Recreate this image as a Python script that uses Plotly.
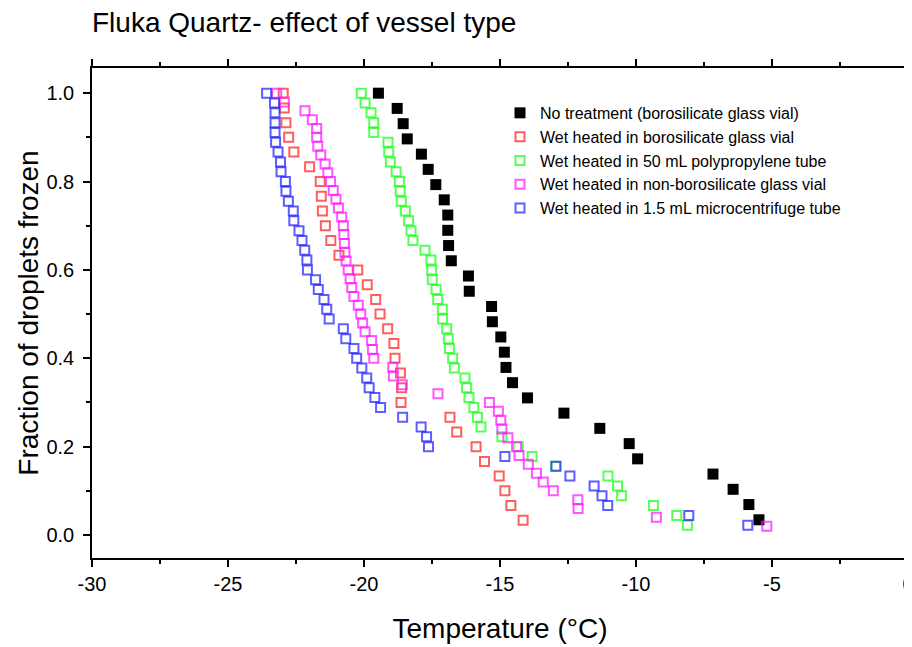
import plotly.graph_objects as go

# ---- data ----
black_x = [-19.47, -18.78, -18.56, -18.41, -17.89, -17.64, -17.36, -17.05, -16.92, -16.92,
           -16.89, -16.79, -16.16, -16.13, -15.31, -15.28, -14.97, -14.84, -14.78, -14.54,
           -13.99, -12.65, -11.33, -10.25, -9.94, -7.17, -6.43, -5.85, -5.48]
black_y = [k / 29 for k in range(29, 0, -1)]

red_x = [-22.97, -22.93, -22.87, -22.77, -22.58, -22.00, -21.61, -21.57, -21.53, -21.42,
         -21.22, -20.92, -20.23, -19.88, -19.57, -19.41, -19.13, -18.90, -18.86, -18.66,
         -18.62, -18.64, -16.84, -16.59, -15.88, -15.57, -15.03, -14.82, -14.60, -14.15]
red_y = [k / 30 for k in range(30, 0, -1)]

green_x = [-20.10, -19.96, -19.74, -19.64, -19.64, -19.12, -19.09, -19.03, -18.82, -18.70,
           -18.67, -18.63, -18.48, -18.36, -18.27, -18.20, -17.76, -17.54, -17.51, -17.49,
           -17.35, -17.29, -17.12, -17.11, -16.96, -16.90, -16.86, -16.74, -16.68, -16.29,
           -16.23, -16.14, -15.96, -15.83, -15.70, -14.93, -14.33, -13.82, -12.96, -11.03,
           -10.68, -10.53, -9.36, -8.50, -8.11]
green_y = [k / 45 for k in range(45, 0, -1)]

magenta_x = [-23.21, -22.93, -22.17, -21.90, -21.74, -21.74, -21.70, -21.59, -21.43, -21.33,
             -21.23, -21.13, -21.03, -20.94, -20.82, -20.76, -20.74, -20.72, -20.70, -20.66,
             -20.58, -20.51, -20.45, -20.37, -20.21, -20.12, -20.05, -19.96, -19.72, -19.69,
             -19.64, -18.94, -18.92, -18.59, -17.28, -15.39, -15.06, -14.97, -14.93, -14.71,
             -14.39, -14.30, -13.96, -13.66, -13.41, -13.04, -12.14, -12.13, -9.25, -5.19]
magenta_y = [k / 50 for k in range(50, 0, -1)]

blue_x = [-23.58, -23.29, -23.27, -23.27, -23.27, -23.25, -23.16, -23.07, -23.05, -22.89,
          -22.87, -22.78, -22.60, -22.58, -22.39, -22.28, -22.18, -22.10, -22.08, -21.78,
          -21.68, -21.47, -21.37, -21.28, -20.76, -20.67, -20.37, -20.27, -20.08, -19.90,
          -19.81, -19.60, -19.39, -18.58, -17.90, -17.70, -17.63, -14.82, -12.94, -12.43,
          -11.54, -11.25, -11.04, -8.06, -5.89]
blue_y = [k / 45 for k in range(45, 0, -1)]

names = ["No treatment (borosilicate glass vial)",
         "Wet heated in borosilicate glass vial",
         "Wet heated in 50 mL polypropylene tube",
         "Wet heated in non-borosilicate glass vial",
         "Wet heated in 1.5 mL microcentrifuge tube"]

x_ticks = [-30, -25, -20, -15, -10, -5, 0]
y_ticks = [0.0, 0.2, 0.4, 0.6, 0.8, 1.0]

FONT = "Liberation Sans, Arial, sans-serif"

fig = go.Figure()
fig.add_trace(go.Scatter(x=black_x, y=black_y, mode="markers", name=names[0],
                         marker=dict(symbol="square", size=11, color="black",
                                     line=dict(width=0))))
series = [(red_x, red_y, "rgba(255,40,40,0.75)", names[1]),
          (green_x, green_y, "rgba(30,255,30,0.75)", names[2]),
          (magenta_x, magenta_y, "rgba(255,30,255,0.75)", names[3]),
          (blue_x, blue_y, "rgba(40,40,255,0.75)", names[4])]
for xs, ys, col, nm in series:
    fig.add_trace(go.Scatter(x=xs, y=ys, mode="markers", name=nm,
                             marker=dict(symbol="square-open", size=9, color=col,
                                         line=dict(width=2, color=col))))

axis_common = dict(showline=True, linecolor="black", linewidth=1.5, mirror="ticks",
                   ticks="outside", ticklen=7, tickwidth=1.5, tickcolor="black",
                   showgrid=False, zeroline=False, automargin=False,
                   ticklabeloverflow="allow",
                   tickfont=dict(family=FONT, size=20, color="black"))

fig.update_xaxes(range=[-30, 0], tickvals=x_ticks,
                 ticktext=[str(v) for v in x_ticks],
                 title=dict(text="Temperature (°C)", font=dict(family=FONT, size=28, color="black"),
                            standoff=25),
                 minor=dict(dtick=2.5, ticks="outside", ticklen=4, tickwidth=1.5, tickcolor="black"),
                 **axis_common)
fig.update_yaxes(range=[-0.052, 1.057], tickvals=y_ticks,
                 ticktext=[f"{v:.1f}" for v in y_ticks],
                 ticklabelstandoff=5,
                 title=dict(text="Fraction of droplets frozen", font=dict(family=FONT, size=28, color="black"),
                            standoff=0),
                 minor=dict(dtick=0.1, tick0=0, ticks="outside", ticklen=4, tickwidth=1.5, tickcolor="black"),
                 **axis_common)

# the page body adds an 8 px offset, so the figure is 8 px smaller and margins shifted
fig.update_layout(
    width=904, height=639,
    margin=dict(l=84, r=4, t=60, b=89),
    paper_bgcolor="white", plot_bgcolor="white",
    title=dict(text="Fluka Quartz- effect of vessel type", x=84 / 904, xanchor="left",
               y=1 - 14 / 639, yanchor="middle",
               font=dict(family=FONT, size=28, color="black")),
    legend=dict(x=0.5, y=0.943, xanchor="left", yanchor="top",
                font=dict(family=FONT, size=16, color="black"),
                bgcolor="rgba(0,0,0,0)", itemwidth=30, tracegroupgap=0),
    showlegend=True,
)

fig.write_html("out.html")
